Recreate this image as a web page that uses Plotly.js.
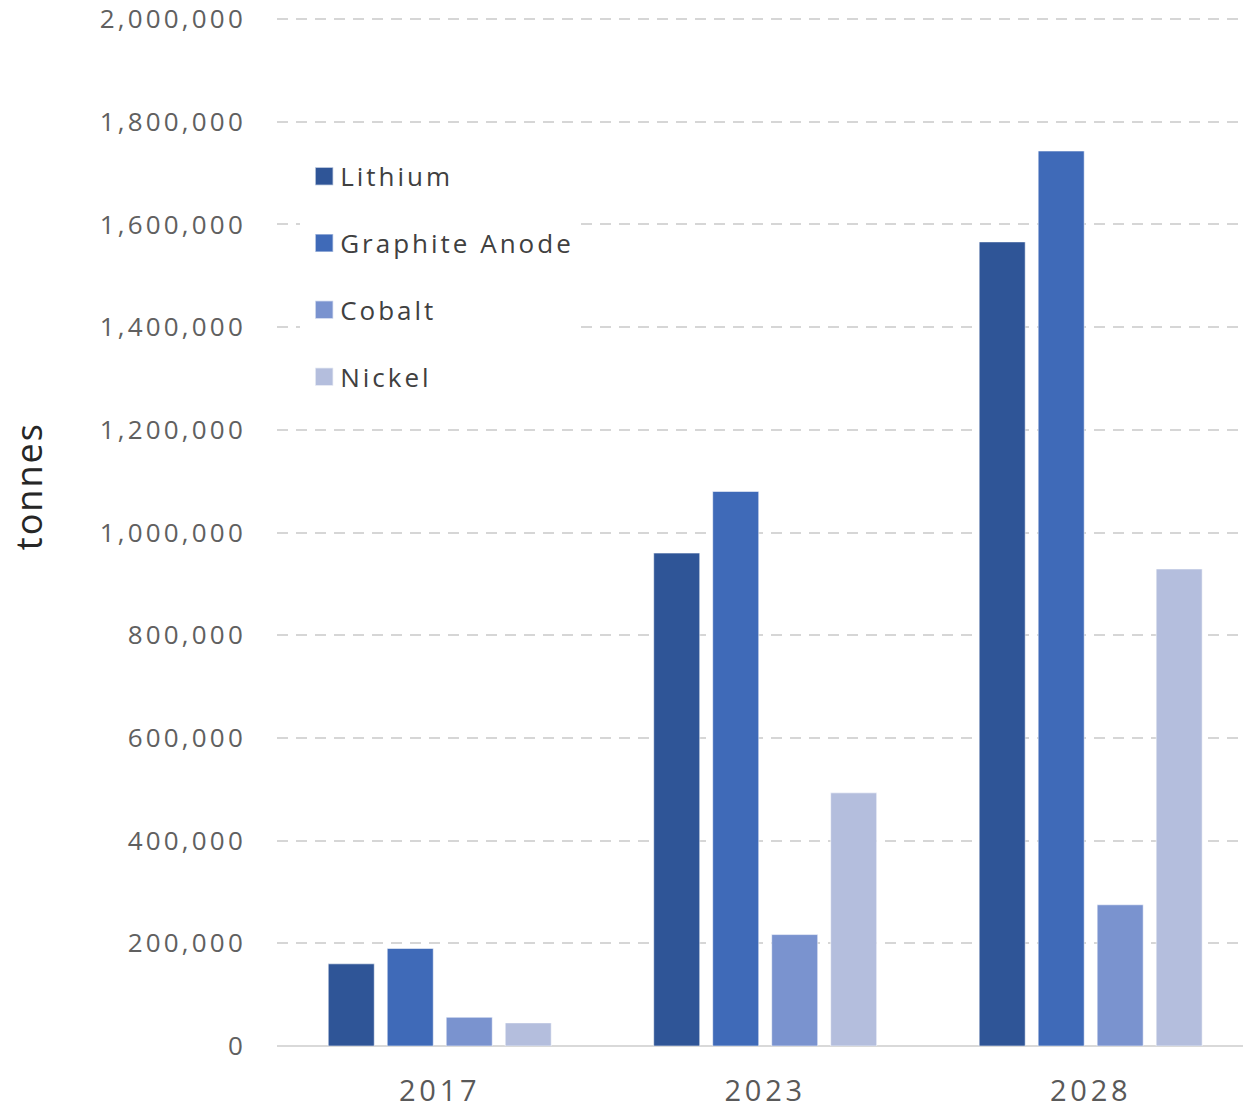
<!DOCTYPE html>
<html>
<head>
<meta charset="utf-8">
<script src="https://cdn.plot.ly/plotly-3.0.1.min.js"></script>
<style>
html,body{margin:0;padding:0;background:#fff;}
#chart{width:1243px;height:1111px;}
.ytick text{letter-spacing:3.2px;}
.xtick text{letter-spacing:3.8px;}
.legendtext{letter-spacing:3px;}
.annotation-text{letter-spacing:2px;}
.legendpoints path{scale:1.5;translate:-6px 0;transform-box:fill-box;transform-origin:center;}
</style>
</head>
<body>
<div id="chart"></div>
<script>
const years = ["2017", "2023", "2028"];
const seriesNames = ["Lithium", "Graphite Anode", "Cobalt", "Nickel"];
const lithium = [160000, 960000, 1566000];
const graphiteAnode = [190000, 1080000, 1743000];
const cobalt = [56000, 217000, 275000];
const nickel = [45000, 493000, 929000];
const colors = ["#2F5597", "#3F6AB8", "#7A93CF", "#B4BEDD"];
const values = [lithium, graphiteAnode, cobalt, nickel];

const traces = values.map((v, i) => ({
  type: "bar",
  name: seriesNames[i],
  x: years,
  y: v,
  legendgroup: "g" + i,
  marker: {color: colors[i], line: {color: "rgba(255,255,255,0.55)", width: 1}},
  hoverinfo: "x+y+name"
}));

const layout = {
  width: 1243,
  height: 1111,
  margin: {l: 277, r: 0, t: 17, b: 65, autoexpand: false},
  paper_bgcolor: "#ffffff",
  plot_bgcolor: "#ffffff",
  font: {family: "Open Sans, sans-serif", color: "#595959"},
  barmode: "group",
  bargap: 0.275,
  bargroupgap: 0.22,
  showlegend: true,
  legend: {
    x: 0.024, xanchor: "left",
    y: 0.868, yanchor: "top",
    bgcolor: "#ffffff",
    font: {family: "Open Sans, sans-serif", size: 26, color: "#404040"},
    traceorder: "grouped",
    tracegroupgap: 30,
    itemclick: false
  },
  xaxis: {
    type: "category",
    range: [-0.5, 2.468],
    showgrid: false,
    showline: false,
    zeroline: false,
    ticks: "",
    tickfont: {family: "Open Sans, sans-serif", size: 29, color: "#595959"},
    ticklabelstandoff: 25,
    fixedrange: true
  },
  yaxis: {
    range: [0, 2004000],
    dtick: 200000,
    tick0: 0,
    tickformat: ",d",
    showgrid: true,
    gridcolor: "#D6D6D6",
    gridwidth: 2,
    griddash: "11px,8px",
    zeroline: true,
    zerolinecolor: "#D9D9D9",
    zerolinewidth: 2,
    showline: false,
    ticks: "",
    tickfont: {family: "Open Sans, sans-serif", size: 26, color: "#606060"},
    ticklabelstandoff: 30,
    automargin: false,
    fixedrange: true
  },
  annotations: [{
    text: "tonnes",
    xref: "paper", yref: "paper",
    x: -0.2578, y: 0.544,
    xanchor: "center", yanchor: "middle",
    textangle: -90,
    showarrow: false,
    font: {family: "Open Sans, sans-serif", size: 36, color: "#262626"}
  }]
};

Plotly.newPlot("chart", traces, layout, {displayModeBar: false});
</script>
</body>
</html>
